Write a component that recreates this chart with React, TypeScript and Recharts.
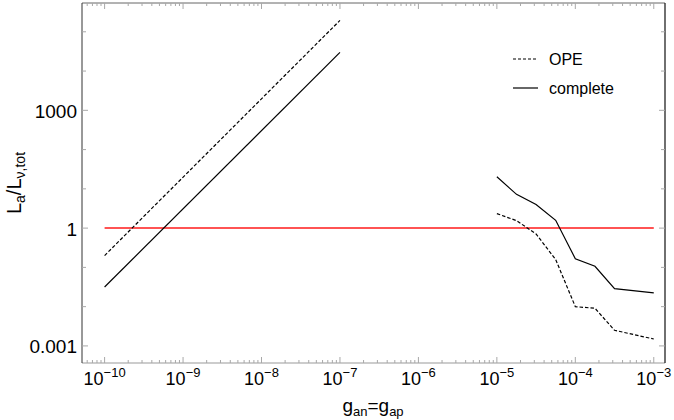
import React from 'react';
import { LineChart, Line, XAxis, YAxis } from 'recharts';

// ---- data ----
const opeLeftX = [1e-10, 1e-7];
const opeLeftY = [0.2, 1.95e5];
const completeLeftX = [1e-10, 1e-7];
const completeLeftY = [0.0316, 3.0e4];
const rightX = [1e-5, 1.78e-5, 3.16e-5, 5.62e-5, 1e-4, 1.78e-4, 3.16e-4, 1e-3];
const opeRightY = [2.34, 1.55, 0.71, 0.158, 0.01, 0.0091, 0.0025, 0.0015];
const completeRightY = [20.4, 7.24, 3.98, 1.58, 0.166, 0.107, 0.0288, 0.0224];
const unityX = [1e-10, 1e-3];
const unityY = [1, 1];

// ---- ticks ----
const xMajorExponents = [-10, -9, -8, -7, -6, -5, -4, -3];
const xMinorMultipliers = [2, 3, 4, 5, 6, 7, 8, 9];
const yTickExponents = [-3, -2, -1, 0, 1, 2, 3, 4, 5];
const yLabelExponents = [-3, 0, 3];
const yTickLabels = ['0.001', '1', '1000'];

const X_DOMAIN: [number, number] = [Math.pow(10, -10.288), Math.pow(10, -2.857)];
const Y_DOMAIN: [number, number] = [Math.pow(10, -3.435), Math.pow(10, 5.733)];

const toPoints = (xs: number[], ys: number[]) => xs.map((x, i) => ({ x, y: ys[i] }));

const xTicks: number[] = [];
for (const e of [-11, ...xMajorExponents]) {
  const base = Math.pow(10, e);
  if (base >= X_DOMAIN[0] && base <= X_DOMAIN[1]) xTicks.push(base);
  for (const m of xMinorMultipliers) {
    const v = m * base;
    if (v >= X_DOMAIN[0] && v <= X_DOMAIN[1]) xTicks.push(v);
  }
}
const yTicks = yTickExponents.map((e) => Math.pow(10, e));

const isDecade = (v: number) => Math.abs(Math.log10(v) - Math.round(Math.log10(v))) < 1e-6;
const expOf = (v: number) => Math.round(Math.log10(v));

const TICK_COLOR = '#a8a8a8';
const FONT = 'Liberation Sans, Arial, sans-serif';

const BottomTick = (props: any) => {
  const { x, y, payload } = props;
  const v = payload.value;
  const major = isDecade(v);
  return (
    <g>
      <line x1={x} y1={y} x2={x} y2={y - (major ? 6 : 3)} stroke={TICK_COLOR} strokeWidth={1} />
      {major && (
        <text x={x} y={y + 22} textAnchor="middle" fontFamily={FONT} fontSize={18} fill="#000">
          10
          <tspan dy={-8} fontSize={13}>{'\u2212' + Math.abs(expOf(v))}</tspan>
        </text>
      )}
    </g>
  );
};

const TopTick = (props: any) => {
  const { x, y, payload } = props;
  const major = isDecade(payload.value);
  return <line x1={x} y1={y} x2={x} y2={y + (major ? 6 : 3)} stroke={TICK_COLOR} strokeWidth={1} />;
};

const LeftTick = (props: any) => {
  const { x, y, payload } = props;
  const e = expOf(payload.value);
  const li = yLabelExponents.indexOf(e);
  return (
    <g>
      <line x1={x} y1={y} x2={x + (li >= 0 ? 6 : 4)} y2={y} stroke={TICK_COLOR} strokeWidth={1} />
      {li >= 0 && (
        <text x={x - 5} y={y + 7.5} textAnchor="end" fontFamily={FONT} fontSize={19} fill="#000">
          {yTickLabels[li]}
        </text>
      )}
    </g>
  );
};

const RightTick = (props: any) => {
  const { x, y, payload } = props;
  const e = expOf(payload.value);
  const major = yLabelExponents.indexOf(e) >= 0;
  return <line x1={x} y1={y} x2={x - (major ? 6 : 4)} y2={y} stroke={TICK_COLOR} strokeWidth={1} />;
};

const LegendBox = () => (
  <g>
    <line x1={513} y1={59} x2={538} y2={59} stroke="#000" strokeWidth={1.2} strokeDasharray="3 2" />
    <text x={549} y={64.5} fontFamily={FONT} fontSize={16} fill="#000">OPE</text>
    <line x1={513} y1={88} x2={538} y2={88} stroke="#000" strokeWidth={1.2} />
    <text x={549} y={93.5} fontFamily={FONT} fontSize={16} fill="#000">complete</text>
  </g>
);

const XTitle = () => (
  <text x={373} y={412} textAnchor="middle" fontFamily={FONT} fontSize={19} fill="#000">
    g<tspan dy={4} fontSize={13}>an</tspan>
    <tspan dy={-4}>=g</tspan>
    <tspan dy={4} fontSize={13}>ap</tspan>
  </text>
);

const YTitle = () => (
  <text
    x={21}
    y={183}
    transform="rotate(-90 21 183)"
    textAnchor="middle"
    fontFamily={FONT}
    fontSize={20}
    fill="#000"
  >
    L<tspan dy={4} fontSize={14}>a</tspan>
    <tspan dy={-4}>/L</tspan>
    <tspan dy={4} fontSize={14}>{'\u03bd,tot'}</tspan>
  </text>
);

export default function App() {
  const lineCommon = {
    type: 'linear' as const,
    dataKey: 'y',
    xAxisId: 'b',
    yAxisId: 'l',
    dot: false,
    activeDot: false,
    isAnimationActive: false,
    legendType: 'none' as const,
  };
  return (
    <div style={{ position: 'absolute', left: 0, top: 0, width: 674, height: 420, background: '#fff' }}>
      <LineChart width={674} height={420} margin={{ top: 2, right: 8, left: 0, bottom: 0 }}>
        <XAxis
          xAxisId="b"
          dataKey="x"
          type="number"
          scale="log"
          domain={X_DOMAIN}
          allowDataOverflow
          ticks={xTicks}
          interval={0}
          tickSize={0}
          tickMargin={0}
          tick={<BottomTick />}
          axisLine={{ stroke: '#999', strokeWidth: 1 }}
          height={57}
          orientation="bottom"
        />
        <XAxis
          xAxisId="t"
          dataKey="x"
          type="number"
          scale="log"
          domain={X_DOMAIN}
          allowDataOverflow
          ticks={xTicks}
          interval={0}
          tickSize={0}
          tickMargin={0}
          tick={<TopTick />}
          axisLine={{ stroke: '#666', strokeWidth: 1 }}
          height={1}
          orientation="top"
        />
        <YAxis
          yAxisId="l"
          type="number"
          scale="log"
          domain={Y_DOMAIN}
          allowDataOverflow
          ticks={yTicks}
          interval={0}
          tickSize={0}
          tickMargin={0}
          tick={<LeftTick />}
          axisLine={{ stroke: '#333', strokeWidth: 1 }}
          width={82}
          orientation="left"
        />
        <YAxis
          yAxisId="r"
          type="number"
          scale="log"
          domain={Y_DOMAIN}
          allowDataOverflow
          ticks={yTicks}
          interval={0}
          tickSize={0}
          tickMargin={0}
          tick={<RightTick />}
          axisLine={{ stroke: '#222', strokeWidth: 1.3 }}
          width={1}
          orientation="right"
        />
        <Line {...lineCommon} data={toPoints(unityX, unityY)} stroke="#ff1a1a" strokeWidth={1.5} name="unity" />
        <Line
          {...lineCommon}
          xAxisId="t"
          yAxisId="r"
          data={toPoints(unityX, unityY)}
          stroke="none"
          strokeWidth={0}
          name="frame"
        />
        <Line {...lineCommon} data={toPoints(opeLeftX, opeLeftY)} stroke="#000" strokeWidth={1.2} strokeDasharray="3.5 2" name="OPE" />
        <Line {...lineCommon} data={toPoints(completeLeftX, completeLeftY)} stroke="#000" strokeWidth={1.2} name="complete" />
        <Line {...lineCommon} data={toPoints(rightX, opeRightY)} stroke="#000" strokeWidth={1.2} strokeDasharray="3.5 2" name="OPE " />
        <Line {...lineCommon} data={toPoints(rightX, completeRightY)} stroke="#000" strokeWidth={1.2} name="complete " />
      </LineChart>
      <svg width={674} height={420} style={{ position: 'absolute', left: 0, top: 0, pointerEvents: 'none' }}>
        <LegendBox />
        <XTitle />
        <YTitle />
      </svg>
    </div>
  );
}
